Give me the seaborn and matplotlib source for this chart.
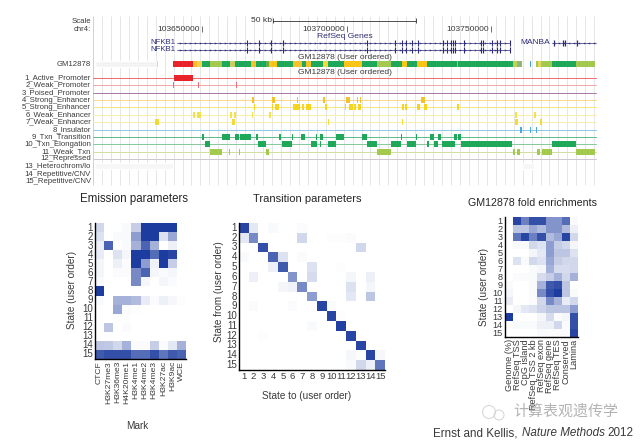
import numpy as np
import matplotlib
matplotlib.use("Agg")
import matplotlib.pyplot as plt
from matplotlib.colors import LinearSegmentedColormap
from matplotlib.patches import Circle
import seaborn as sns

sns.set_theme(style="white")
plt.rcParams['font.family'] = ['Liberation Sans', 'Noto Sans CJK SC', 'DejaVu Sans']

# ---- browser track data (horizontal positions on the browser axis) ----
state_names = ["1_Active_Promoter", "2_Weak_Promoter", "3_Poised_Promoter", "4_Strong_Enhancer",
               "5_Strong_Enhancer", "6_Weak_Enhancer", "7_Weak_Enhancer", "8_Insulator",
               "9_Txn_Transition", "10_Txn_Elongation", "11_Weak_Txn", "12_Repressed",
               "13_Heterochrom/lo", "14_Repetitive/CNV", "15_Repetitive/CNV"]
state_colors = ["#ee6a6e", "#f4a8a8", "#a878a8", "#f8d88a", "#f7e67c", "#f8efa8", "#f8efa8",
                "#8cc8e4", "#5cbc88", "#86c898", "#cfe0a0", "#cfc6d2", "#ffffff", "#ffffff", "#ffffff"]
seg_colors = ["#e8242a", "#ec6f78", "#a070a0", "#f6c22a", "#f6d420", "#f4e24c", "#f2d93c",
              "#4aa8dc", "#1fa75a", "#1fa75a", "#a3c94f", "#c8c0d0"]
track_segments = [
    [(174, 192.5), (252.5, 253.2)],
    [(173, 173.6), (194.5, 195.3), (198, 198.8), (201.5, 202.3), (236, 236.6), (252.5, 253.2)],
    [],
    [(252, 254), (272, 275), (297, 297.8), (323, 325), (346, 350), (357, 358), (360, 361), (421, 425)],
    [(254, 255), (272, 273), (275, 279), (293, 300), (302, 304), (306, 311), (325, 327), (345, 346),
     (349, 353), (354, 356), (358, 361), (402, 404), (405, 407), (417, 420), (424, 427), (457, 459)],
    [(193, 194.5), (197, 201), (230, 231.5), (234, 235.5), (252, 252.5), (269, 270.5), (515, 517), (534, 536)],
    [(155, 159), (232, 234.5), (328, 329), (402, 403), (515, 518), (540, 542)],
    [(520, 522), (530, 531), (535.5, 536.5)],
    [(202, 204), (221.5, 230), (235, 239), (239.5, 251), (256, 258), (278.5, 281), (292, 293), (301, 305),
     (315.5, 317), (320, 323), (336, 344), (362, 367), (401, 402), (416, 417), (430, 434), (438, 441),
     (454, 457), (458, 461)],
    [(204.5, 209.5), (258, 266), (282, 292), (311, 317), (320, 321), (328, 336), (367, 377), (391, 401),
     (407, 416), (427, 429), (434, 438), (442, 455), (461, 512), (552, 576)],
    [(210, 222), (229, 230), (239, 240), (266, 269), (377, 391), (513, 515), (517, 520), (537, 540),
     (542, 552), (576, 595)],
    [],
]
summary_starts = [156.5, 173, 192.5, 195, 197, 201.5, 210, 221.5, 230, 235, 251, 256, 266, 269, 277, 293, 302,
                  306, 311, 323, 328, 344, 362, 377, 391, 402, 407, 417, 427, 457, 458, 513, 517, 530, 536,
                  538, 541, 552, 576]
summary_ends = [158, 192.5, 194.5, 196.5, 201.5, 210, 221.5, 230, 235, 251, 256, 266, 269, 277, 293, 302, 306,
                311, 323, 328, 344, 362, 377, 391, 402, 407, 417, 427, 457, 458, 513, 517, 522, 531, 538,
                541, 552, 576, 595]
summary_cols = ["#f4e24c", "#e8242a", "#f6c22a", "#f6c22a", "#f8d050", "#1fa75a", "#a3c94f", "#1fa75a", "#c4d060",
                "#1fa75a", "#f6c22a", "#1fa75a", "#60b050", "#fcc516", "#1fa75a", "#f6c22a", "#1fa75a",
                "#f6c22a", "#1fa75a", "#f2d93c", "#1fa75a", "#fcc516", "#1fa75a", "#a3c94f", "#1fa75a",
                "#fcc516", "#1fa75a", "#fcc516", "#1fa75a", "#a3c94f", "#1fa75a", "#c0d050", "#8fb878",
                "#4aa8dc", "#a3c94f", "#e4d860", "#a3c94f", "#1fa75a", "#a3c94f"]
nfkb1_exons = [246.7, 259.3, 271.3, 282.7, 367.3, 395.3, 402, 406.3, 412.3, 418.3, 443.3, 446.7, 450.7,
               452.7, 455, 464, 480.7, 483.3, 491.7, 496.7, 500, 510]
manba_exons = [553.5, 563, 564.5, 577]

# ---- heatmap data ----
marks = ["CTCF", "H3K27me3", "H3K36me3", "H4K20me1", "H3K4me1", "H3K4me2", "H3K4me3", "H3K27ac", "H3K9ac", "WCE"]
state_ids = [str(i) for i in range(1, 16)]
emission = [
    [.20, 0, 0, .03, .25, 1, 1, 1, 1, 0],
    [.15, 0, .03, .03, .50, 1, 1, .15, .45, 0],
    [.08, .80, 0, .03, .40, .80, .40, 0, .08, 0],
    [.10, 0, .15, .05, 1, 1, .75, 1, .95, 0],
    [.05, 0, .08, .02, 1, .50, .07, 1, .25, 0],
    [.05, 0, .02, .02, .60, .80, .05, .03, .05, 0],
    [.03, 0, 0, 0, .60, .05, 0, .05, .02, 0],
    [1, 0, 0, 0, 0, 0, 0, 0, 0, 0],
    [.03, 0, .40, .40, .35, .10, .02, .08, .04, .01],
    [0, 0, .45, .02, .01, 0, 0, 0, 0, 0],
    [0, 0, .01, .01, 0, 0, 0, 0, 0, 0],
    [0, .30, 0, .02, 0, 0, 0, 0, 0, 0],
    [0, .01, 0, 0, 0, 0, 0, 0, 0, 0],
    [.30, .28, .20, .40, .02, .02, .25, .02, .12, .40],
    [.85, .90, .90, .90, .75, .75, .90, .70, .85, .80],
]
transition = [
    [.95, .12, 0, .03, 0, 0, .02, 0, 0, 0, 0, 0, 0, 0, 0],
    [.12, .60, 0, 0, 0, 0, .20, 0, 0, .01, .01, .02, 0, 0, 0],
    [0, 0, .90, 0, 0, 0, 0, 0, 0, 0, 0, 0, .20, 0, 0],
    [.03, 0, 0, .80, .15, 0, .02, 0, 0, 0, 0, 0, 0, 0, 0],
    [0, 0, 0, .08, .85, 0, 0, .15, 0, 0, .01, 0, 0, 0, 0],
    [0, .08, 0, 0, 0, .55, 0, .18, 0, 0, 0, .05, 0, .08, 0],
    [0, 0, 0, 0, .05, .07, .60, 0, 0, 0, 0, .15, 0, .05, 0],
    [0, 0, 0, 0, 0, 0, 0, .50, 0, 0, 0, .12, 0, .30, 0],
    [0, .02, 0, 0, 0, .02, 0, 0, .95, .02, 0, 0, 0, 0, 0],
    [0, 0, 0, 0, 0, 0, 0, 0, 0, .95, .01, 0, 0, 0, 0],
    [0, 0, 0, 0, 0, 0, 0, .03, 0, 0, .98, 0, 0, 0, 0],
    [0, 0, .01, 0, 0, 0, 0, 0, 0, 0, 0, .95, 0, 0, 0],
    [0, 0, 0, 0, 0, 0, 0, 0, 0, 0, 0, 0, .95, 0, 0],
    [0, 0, 0, 0, 0, 0, 0, 0, 0, 0, 0, .04, .01, .95, .04],
    [0, 0, 0, 0, 0, 0, 0, 0, 0, 0, 0, .03, .20, .08, .70],
]
fold_cols = ["Genome (%)", "RefSeq TSS", "CpG island", "RefSeq TSS 2 kb", "RefSeq exon", "RefSeq gene",
             "RefSeq TES", "Conserved", "Lamina"]
fold = [
    [0, .95, .65, .90, .90, .55, .55, .75, .02],
    [0, .30, .30, .45, .35, .55, .55, .35, .08],
    [0, .70, .95, .65, .90, .35, .45, .95, .20],
    [0, .03, .03, .20, .15, .50, .25, .20, .05],
    [0, 0, 0, .05, .12, .50, .30, .30, .15],
    [0, .15, .03, .20, .15, .45, .25, .20, .20],
    [0, 0, 0, .03, .05, .40, .18, .18, .20],
    [0, .02, .03, .03, .18, .25, .40, .20, .40],
    [.03, 0, 0, .03, .40, .85, .90, .30, 0],
    [.05, 0, 0, .03, .60, .90, 1, .30, .03],
    [.10, 0, 0, .02, .20, .60, .40, .10, .20],
    [0, .05, .12, .15, .22, .30, .30, .30, .50],
    [1, 0, 0, 0, .05, .18, .02, .05, .90],
    [0, .03, .03, .03, .08, .08, .20, .02, .90],
    [0, 0, 0, 0, .03, .02, .02, .02, .95],
]

W, H = 640, 442
fig = plt.figure(figsize=(6.4, 4.42), dpi=100, facecolor="white")
cmap = LinearSegmentedColormap.from_list("wb", ["#ffffff", "#1d3c9f"])
TXT = "#3a3a3a"


def px_axes(x0, y0, x1, y1):
    return fig.add_axes([x0 / W, 1 - y1 / H, (x1 - x0) / W, (y1 - y0) / H])


# ---- genome browser ----
br = fig.add_axes([0, 0, 1, 1], zorder=1)
br.set_xlim(0, W)
br.set_ylim(H, 0)
br.axis("off")
br.vlines(np.arange(93, 597, 8.95), 16, 185, color="#e2e2e6", lw=0.6, zorder=0)
br.vlines([93], 16, 185, color="#f0c0c0", lw=0.6, zorder=0)

fs = 5.6
br.text(91, 21.5, "Scale", ha="right", va="center", fontsize=fs, color=TXT)
br.text(91, 29.5, "chr4:", ha="right", va="center", fontsize=fs, color=TXT)
br.text(272, 21, "50 kb", ha="right", va="center", fontsize=fs + .5, color=TXT)
br.plot([273, 416], [20.5, 20.5], color="#333333", lw=0.6)
br.vlines([273, 416], 18, 23, color="#333333", lw=0.6)
for lab, end in [("103650000", 200), ("103700000", 345), ("103750000", 489)]:
    br.text(end, 29.5, lab, ha="right", va="center", fontsize=fs + .5, color=TXT)
    br.vlines([end + 1.5], 25.5, 32, color="#333333", lw=0.5)
br.text(345, 36.5, "RefSeq Genes", ha="center", va="center", fontsize=fs + .5, color="#2f2f70")
gene_col = "#2b2b78"
for y in (42.5, 49.8):
    br.text(175, y, "NFKB1", ha="right", va="center", fontsize=fs, color=gene_col)
    br.plot([177, 510], [y, y], color=gene_col, lw=0.5)
    br.plot(np.arange(180, 510, 5), np.full(66, y), ls="", marker="4", ms=1.8, mew=0.4, color=gene_col)
    br.vlines(nfkb1_exons, y - 3, y + 3, color=gene_col, lw=0.8)
br.text(550, 42.5, "MANBA", ha="right", va="center", fontsize=fs + .4, color=gene_col)
br.plot([552, 596], [42.5, 42.5], color=gene_col, lw=0.5)
br.plot(np.arange(554, 596, 5), np.full(9, 42.5), ls="", marker="3", ms=1.8, mew=0.4, color=gene_col)
br.vlines(manba_exons, 39.5, 45.5, color=gene_col, lw=0.9)

br.text(345, 57.5, "GM12878 (User ordered)", ha="center", va="center", fontsize=fs + .4, color=TXT, zorder=6)
br.text(345, 72, "GM12878 (User ordered)", ha="center", va="center", fontsize=fs + .4, color=TXT, zorder=6)
br.text(91, 64, "GM12878", ha="right", va="center", fontsize=fs, color=TXT)
br.barh([64], [62], left=[95], height=6.5, color="#f3f3f3", zorder=2)
br.barh(np.full(len(summary_starts), 64.0), np.array(summary_ends) - np.array(summary_starts),
        left=summary_starts, height=6.5, color=summary_cols, linewidth=0, zorder=3)

row_y = [77.7, 85, 92.5, 100, 107.3, 115, 122, 129.5, 136.7, 144, 152, 158.5, 166, 174, 181.5]
for i, name in enumerate(state_names):
    br.text(91, row_y[i], name, ha="right", va="center", fontsize=fs, color=TXT, zorder=6)
    if i < 12:
        br.plot([93, 596], [row_y[i], row_y[i]], color=state_colors[i], lw=0.7, zorder=1)
    segs = track_segments[i] if i < 12 else []
    if segs:
        st = np.array([s[0] for s in segs])
        en = np.array([s[1] for s in segs])
        br.barh(np.full(len(segs), row_y[i]), en - st, left=st, height=6.0, color=seg_colors[i],
                linewidth=0, zorder=3)
br.barh([166], [78], left=[95], height=5.5, color="#f6f6f6", zorder=1)
br.barh([166], [12], left=[522], height=5.5, color="#f6f6f6", zorder=1)


# ---- heatmaps ----
def heat(box, data, xlabels, rot, xfs, yfs):
    ax = px_axes(*box)
    sns.heatmap(np.array(data), ax=ax, cmap=cmap, vmin=0, vmax=1, cbar=False,
                xticklabels=xlabels, yticklabels=state_ids, square=False)
    ax.tick_params(axis="both", length=0, pad=1.5, labelcolor=TXT)
    ax.set_xticklabels(xlabels, rotation=rot, fontsize=xfs, color=TXT)
    ax.set_yticklabels(state_ids, rotation=0, fontsize=yfs, color=TXT)
    for s in ("left", "bottom"):
        ax.spines[s].set_visible(True)
        ax.spines[s].set_color("black")
        ax.spines[s].set_linewidth(1.0)
    return ax


heat((95, 223, 186, 359), emission, marks, 90, 6.1, 7)
heat((239, 223, 385, 370), transition, state_ids, 0, 6.8, 7)
heat((505, 217, 578, 337), fold, fold_cols, 90, 6.6, 6.6)

# ---- overlay text ----
br.text(134, 199, "Emission parameters", ha="center", va="center", fontsize=8.3)
br.text(307, 199, "Transition parameters", ha="center", va="center", fontsize=8)
br.text(532, 203, "GM12878 fold enrichments", ha="center", va="center", fontsize=7.7)
br.text(137, 426, "Mark", ha="center", va="center", fontsize=7.2, color=TXT)
br.text(72, 290, "State (user order)", rotation=90, ha="center", va="center", fontsize=7.2, color=TXT)
br.text(219, 292, "State from (user order)", rotation=90, ha="center", va="center", fontsize=7.2, color=TXT)
br.text(307, 396, "State to (user order)", ha="center", va="center", fontsize=7.2, color=TXT)
br.text(484, 287, "State (user order)", rotation=90, ha="center", va="center", fontsize=7.2, color=TXT)
t1 = br.text(433, 433, "Ernst and Kellis, ", ha="left", va="center", fontsize=8.4, color=TXT)
fig.canvas.draw()
x1 = br.transData.inverted().transform(t1.get_window_extent())[1, 0]
t2 = br.text(x1 + 1, 433, "Nature Methods", ha="left", va="center", fontsize=8.4, color=TXT, style="italic")
fig.canvas.draw()
x2 = br.transData.inverted().transform(t2.get_window_extent())[1, 0]
br.text(x2 + 3, 433, "2012", ha="left", va="center", fontsize=8.4, color=TXT)
br.text(566, 412, "计算表观遗传学", ha="center", va="center", fontsize=10.8, color="#9a9a9a", alpha=0.75,
        family=['Noto Sans CJK SC', 'DejaVu Sans'], zorder=8)
br.add_patch(Circle((489, 412), 6.5, fill=False, ec="#d8d8d8", lw=0.8, zorder=8))
br.add_patch(Circle((499, 415), 5, fill=False, ec="#d8d8d8", lw=0.8, zorder=8))

fig.savefig("out.png", dpi=100)
